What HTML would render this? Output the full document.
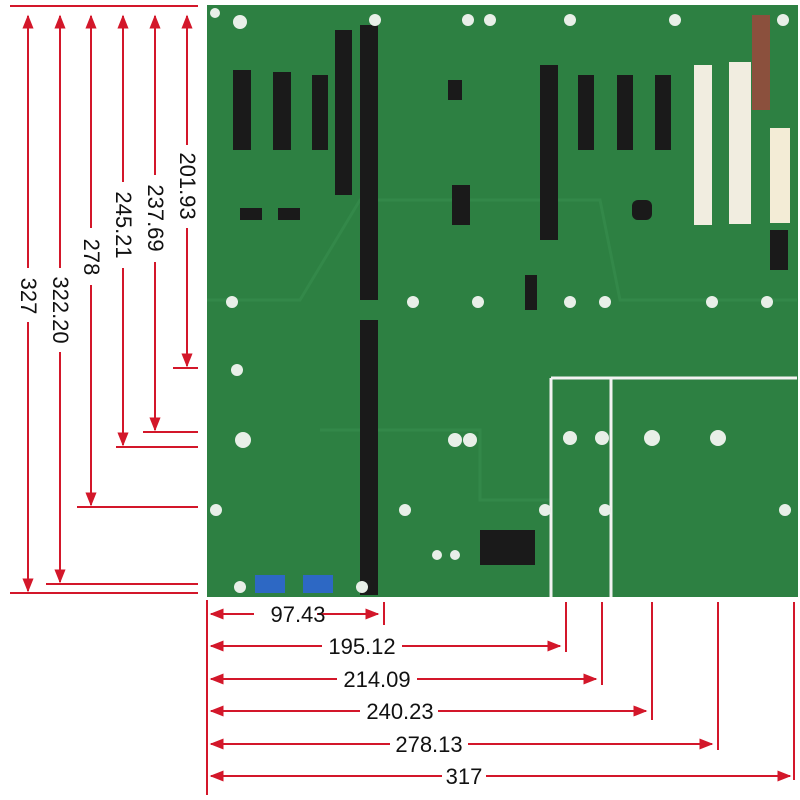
<!DOCTYPE html>
<html><head><style>body{margin:0;background:#fff}svg{display:block}</style></head><body>
<svg width="800" height="800" xmlns="http://www.w3.org/2000/svg" font-family="Liberation Sans, sans-serif">
<defs>
<marker id="a" viewBox="0 0 10 10" refX="9" refY="5" markerWidth="7" markerHeight="7" orient="auto-start-reverse"><path d="M0,1 L10,5 L0,9z" fill="#d3172a"/></marker>
</defs>
<rect x="207" y="5" width="591" height="592" fill="#2d8042"/>
<path d="M207,300 L300,300 L360,200 L600,200 L620,300 L797,300" stroke="#3a9050" stroke-width="3" fill="none" opacity=".5"/>
<path d="M320,430 L480,430 L480,500 L550,500" stroke="#3a9050" stroke-width="3" fill="none" opacity=".5"/>
<path d="M551,378 L797,378 M551,378 L551,597 M611,378 L611,597" stroke="#f2f2f2" stroke-width="3"/>
<g fill="#1a1a1a">
<rect x="335" y="30" width="17" height="165"/>
<rect x="360" y="25" width="18" height="275"/>
<rect x="360" y="320" width="18" height="275"/>
<rect x="233" y="70" width="18" height="80"/>
<rect x="273" y="72" width="18" height="78"/>
<rect x="312" y="75" width="16" height="75"/>
<rect x="540" y="65" width="18" height="175"/>
<rect x="578" y="75" width="16" height="75"/>
<rect x="617" y="75" width="16" height="75"/>
<rect x="655" y="75" width="16" height="75"/>
<rect x="240" y="208" width="22" height="12"/><rect x="278" y="208" width="22" height="12"/>
<rect x="448" y="80" width="14" height="20"/><rect x="452" y="185" width="18" height="40"/>
<rect x="525" y="275" width="12" height="35"/>
<rect x="770" y="230" width="18" height="40"/>
<rect x="632" y="200" width="20" height="20" rx="6"/>
<rect x="480" y="530" width="55" height="35"/>
</g>
<rect x="694" y="65" width="18" height="160" fill="#f1ede0"/>
<rect x="729" y="62" width="22" height="162" fill="#f1ede0"/>
<rect x="770" y="128" width="20" height="95" fill="#f3ecd6"/>
<rect x="752" y="15" width="18" height="95" fill="#c9303a" opacity=".6"/>
<rect x="255" y="575" width="30" height="18" fill="#2d68c4"/>
<rect x="303" y="575" width="30" height="18" fill="#2d68c4"/>
<g fill="#e8efe8">
<circle cx="215" cy="13" r="5"/><circle cx="240" cy="22" r="7"/><circle cx="375" cy="20" r="6"/><circle cx="468" cy="20" r="6"/><circle cx="490" cy="20" r="6"/><circle cx="570" cy="20" r="6"/><circle cx="675" cy="20" r="6"/><circle cx="783" cy="20" r="6"/>
<circle cx="232" cy="302" r="6"/><circle cx="413" cy="302" r="6"/><circle cx="478" cy="302" r="6"/><circle cx="570" cy="302" r="6"/><circle cx="605" cy="302" r="6"/><circle cx="712" cy="302" r="6"/><circle cx="767" cy="302" r="6"/>
<circle cx="237" cy="370" r="6"/><circle cx="243" cy="440" r="8"/><circle cx="455" cy="440" r="7"/><circle cx="470" cy="440" r="7"/><circle cx="570" cy="438" r="7"/><circle cx="602" cy="438" r="7"/><circle cx="652" cy="438" r="8"/><circle cx="718" cy="438" r="8"/>
<circle cx="216" cy="510" r="6"/><circle cx="405" cy="510" r="6"/><circle cx="545" cy="510" r="6"/><circle cx="605" cy="510" r="6"/><circle cx="785" cy="510" r="6"/>
<circle cx="240" cy="587" r="6"/><circle cx="362" cy="587" r="6"/><circle cx="437" cy="555" r="5"/><circle cx="455" cy="555" r="5"/>
</g>
<g stroke="#d3172a" stroke-width="2" fill="none">
<path d="M10,6 H198"/>
<path d="M173,368 H198 M143,432 H198 M116,447 H198 M77,507 H198 M46,584 H198 M10,593 H198"/>
<path d="M187,145 V16" marker-end="url(#a)"/><path d="M187,228 V366" marker-end="url(#a)"/>
<path d="M155,175 V16" marker-end="url(#a)"/><path d="M155,262 V430" marker-end="url(#a)"/>
<path d="M123,182 V16" marker-end="url(#a)"/><path d="M123,268 V445" marker-end="url(#a)"/>
<path d="M91,228 V16" marker-end="url(#a)"/><path d="M91,285 V505" marker-end="url(#a)"/>
<path d="M60,268 V16" marker-end="url(#a)"/><path d="M60,352 V582" marker-end="url(#a)"/>
<path d="M28,268 V16" marker-end="url(#a)"/><path d="M28,322 V591" marker-end="url(#a)"/>
</g>
<g font-size="22" fill="#111" text-anchor="middle">
<text transform="translate(180,186) rotate(90)">201.93</text>
<text transform="translate(148,218) rotate(90)">237.69</text>
<text transform="translate(116,225) rotate(90)">245.21</text>
<text transform="translate(84,257) rotate(90)">278</text>
<text transform="translate(53,310) rotate(90)">322.20</text>
<text transform="translate(21,296) rotate(90)">327</text>
</g>
<g stroke="#d3172a" stroke-width="2" fill="none">
<path d="M207,600 V795"/>
<path d="M384,602 V625 M566,602 V652 M602,602 V685 M652,602 V720 M718,602 V750 M794,602 V780"/>
<path d="M254,614 H211" marker-end="url(#a)"/><path d="M317,614 H378" marker-end="url(#a)"/>
<path d="M322,646 H211" marker-end="url(#a)"/><path d="M402,646 H560" marker-end="url(#a)"/>
<path d="M337,679 H211" marker-end="url(#a)"/><path d="M417,679 H596" marker-end="url(#a)"/>
<path d="M360,711 H211" marker-end="url(#a)"/><path d="M438,711 H646" marker-end="url(#a)"/>
<path d="M390,744 H211" marker-end="url(#a)"/><path d="M468,744 H712" marker-end="url(#a)"/>
<path d="M442,776 H211" marker-end="url(#a)"/><path d="M486,776 H790" marker-end="url(#a)"/>
</g>
<g font-size="22" fill="#111" text-anchor="middle">
<text x="298" y="622">97.43</text>
<text x="362" y="654">195.12</text>
<text x="377" y="687">214.09</text>
<text x="400" y="719">240.23</text>
<text x="429" y="752">278.13</text>
<text x="464" y="784">317</text>
</g>
</svg>
</body></html>
